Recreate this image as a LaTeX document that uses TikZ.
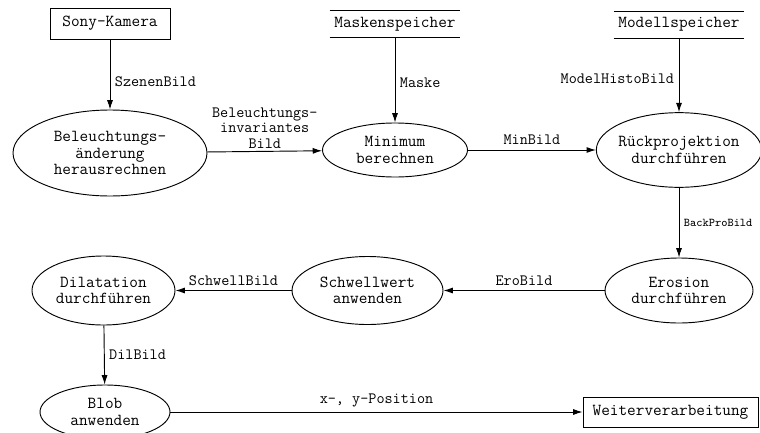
\documentclass[tikz,border=0pt]{standalone}
\usepackage{fontspec}
\usetikzlibrary{shapes.geometric,arrows.meta}
\begin{document}
\begin{tikzpicture}[>={Latex[length=7pt,width=4.5pt]},x=.75pt,y=-.75pt,line width=.7pt,
    font=\ttfamily\fontsize{12.6}{12.4}\selectfont,
    proc/.style={ellipse,draw,inner sep=0pt,inner xsep=-12pt,align=center},
    box/.style={draw,inner sep=0pt},
    store/.style={inner sep=0pt,minimum width=97.5pt,minimum height=19.5pt},
    lab/.style={font=\ttfamily\fontsize{11.8}{11.6}\selectfont,align=center}]
    \useasboundingbox (0,0) rectangle (760,432);
    % quellen
    \node[box,minimum width=90pt,minimum height=23.25pt] (kamera) at (110,23.5) {Sony-Kamera};
    \node[store] (maske) at (395,24) {Maskenspeicher};
    \node[store] (modell) at (679,24.5) {Modellspeicher};
    \draw (maske.north west) -- (maske.north east) (maske.south west) -- (maske.south east);
    \draw (modell.north west) -- (modell.north east) (modell.south west) -- (modell.south east);
    % verarbeitung
    \node[proc,minimum width=145.5pt,minimum height=64.5pt] (beleucht) at (110,153) {Beleuchtungs-\\änderung\\herausrechnen};
    \node[proc,minimum width=108.75pt,minimum height=40.5pt] (minimum) at (395,150) {Minimum\\berechnen};
    \node[proc,minimum width=124pt,minimum height=56pt] (rueck) at (679,150) {Rückprojektion\\durchführen};
    \node[proc,minimum width=111pt,minimum height=48.75pt] (erosion) at (679,290.5) {Erosion\\durchführen};
    \node[proc,minimum width=113.25pt,minimum height=51pt] (schwell) at (367.5,290.5) {Schwellwert\\anwenden};
    \node[proc,minimum width=107.25pt,minimum height=51.75pt] (dilat) at (103.5,290.5) {Dilatation\\durchführen};
    \node[proc,minimum width=97.5pt,minimum height=40.5pt] (blob) at (105,412) {Blob\\anwenden};
    \node[box,minimum width=131.25pt,minimum height=22.5pt] (weiter) at (670.5,412) {Weiterverarbeitung};
    % datenfluss
    \draw[->] (kamera) -- node[lab,right,pos=.6] {SzenenBild} (beleucht);
    \draw[->] (maske) -- node[lab,right,pos=.53] {Maske} (minimum);
    \draw[->] (modell) -- node[lab,left,pos=.55] {ModelHistoBild} (rueck);
    \draw[->] (beleucht) -- node[lab,above,inner sep=2pt] {Beleuchtungs-\\invariantes\\Bild} (minimum);
    \draw[->] (minimum) -- node[lab,above] {MinBild} (rueck);
    \draw[->] (rueck) -- node[lab,right,font=\ttfamily\fontsize{8.9}{9}\selectfont] {BackProBild} (erosion);
    \draw[->] (erosion) -- node[lab,above] {EroBild} (schwell);
    \draw[->] (schwell) -- node[lab,above] {SchwellBild} (dilat);
    \draw[->] (dilat) -- node[lab,right] {DilBild} (blob);
    \draw[->] (blob) -- node[lab,above] {x-, y-Position} (weiter);
\end{tikzpicture}
\end{document}
